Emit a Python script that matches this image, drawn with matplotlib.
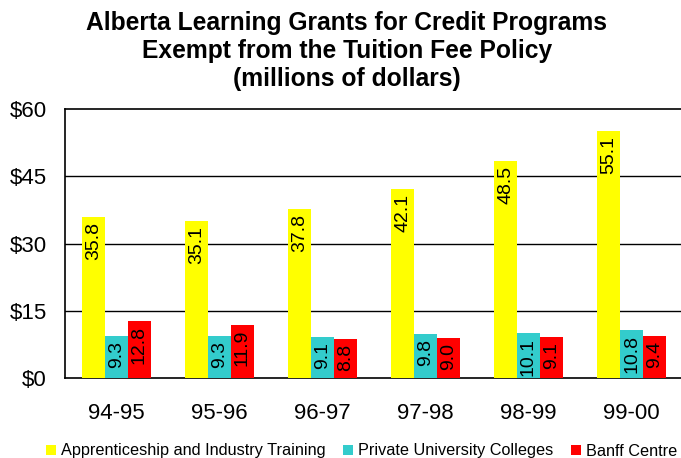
import matplotlib
matplotlib.use("Agg")
import matplotlib.pyplot as plt
import numpy as np

plt.rcParams['font.family'] = ['Liberation Sans', 'DejaVu Sans']

# ===============================
# Data
# ===============================
years = ["94-95", "95-96", "96-97", "97-98", "98-99", "99-00"]
apprenticeship = [35.8, 35.1, 37.8, 42.1, 48.5, 55.1]
private_colleges = [9.3, 9.3, 9.1, 9.8, 10.1, 10.8]
banff = [12.8, 11.9, 8.8, 9.0, 9.1, 9.4]

series_names = ["Apprenticeship and Industry Training",
                "Private University Colleges",
                "Banff Centre"]
series_colors = ["#FFFF00", "#33CCCC", "#FF0000"]
yticks = [0, 15, 30, 45, 60]

# ===============================
# Figure
# ===============================
W, H = 681, 458
fig = plt.figure(figsize=(W / 100, H / 100), dpi=100)
ax = fig.add_axes([65 / W, 80 / H, 618 / W, 269 / H])

x = np.arange(len(years))
bw = 0.223
all_series = [apprenticeship, private_colleges, banff]
for i, (vals, name, col) in enumerate(zip(all_series, series_names, series_colors)):
    pos = x + (i - 1) * bw
    ax.bar(pos, vals, width=bw, color=col, label=name, zorder=3, linewidth=0)
    for p, v in zip(pos, vals):
        ax.annotate(f"{v:.1f}", xy=(p, v), xytext=(0, -5), textcoords="offset pixels",
                    rotation=90, ha="center", va="top", fontsize=14, zorder=4)

ax.set_xlim(-0.5, len(years) - 0.5)
ax.set_ylim(0, 60)
ax.set_yticks(yticks)
ax.set_yticklabels([f"${t}" for t in yticks], fontsize=16)
ax.set_xticks(x)
ax.set_xticklabels(years, fontsize=16)
ax.tick_params(axis="both", length=0)
ax.tick_params(axis="y", pad=13)
ax.tick_params(axis="x", pad=18)

for t in yticks[1:-1]:
    ax.axhline(t, color="#000000", linewidth=1.0, zorder=1)

ax.spines["right"].set_visible(False)
for s in ["left", "bottom", "top"]:
    ax.spines[s].set_color("black")
    ax.spines[s].set_linewidth(1.2)

fig.text(347 / W, 1 - 11 / H,
         "Alberta Learning Grants for Credit Programs\nExempt from the Tuition Fee Policy\n(millions of dollars)",
         ha="center", va="top", fontsize=17.7, fontweight="bold", linespacing=1.2)

fig.legend(loc="center left", bbox_to_anchor=(46 / W, 1 - 451 / H), ncol=3, frameon=False,
           fontsize=11.7, handlelength=0.6, handleheight=0.6, handletextpad=0.3,
           columnspacing=1.1, borderpad=0, borderaxespad=0)

fig.savefig("out.png", dpi=100)
